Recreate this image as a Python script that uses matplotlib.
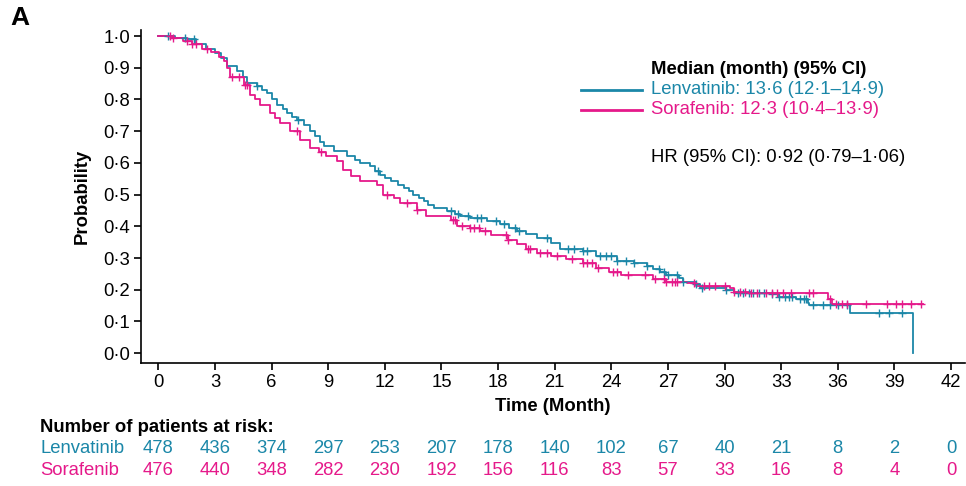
import numpy as np
import matplotlib
matplotlib.use('Agg')
import matplotlib.pyplot as plt

plt.rcParams['font.family'] = ['Liberation Sans', 'DejaVu Sans']

#################################################
# DATA
#################################################
teal = '#1b87a8'
pink = '#e5198a'

lenv_t = [0, 0.9, 1.5, 2.0, 2.5, 3.0, 3.3, 3.64, 4.17, 4.5, 4.7, 5.22, 5.5, 5.76, 6.0,
          6.29, 6.6, 6.82, 7.1, 7.35, 7.7, 8.05, 8.3, 8.58, 8.8, 9.28, 10.0, 10.4, 10.7,
          11.2, 11.5, 11.76, 12.0, 12.3, 12.7, 13.0, 13.3, 13.5, 13.8, 14.05, 14.3, 14.6,
          15.3, 15.7, 16.0, 16.5, 17.4, 18.1, 18.6, 19.0, 19.5, 20.05, 20.8, 21.3, 22.5,
          23.2, 24.3, 25.2, 25.9, 26.2, 26.6, 26.9, 27.6, 27.8, 28.5, 28.7, 30.1, 30.5,
          32.4, 32.9, 33.8, 34.4, 34.5, 36.65, 39.97]
lenv_s = [1.0, 0.995, 0.99, 0.975, 0.96, 0.945, 0.93, 0.905, 0.889, 0.87, 0.851, 0.844,
          0.83, 0.82, 0.80, 0.783, 0.77, 0.757, 0.745, 0.736, 0.72, 0.70, 0.685, 0.665,
          0.652, 0.636, 0.621, 0.61, 0.60, 0.59, 0.575, 0.563, 0.552, 0.542, 0.53, 0.521,
          0.51, 0.50, 0.49, 0.479, 0.468, 0.458, 0.448, 0.44, 0.432, 0.426, 0.417, 0.406,
          0.395, 0.385, 0.375, 0.363, 0.348, 0.329, 0.321, 0.306, 0.29, 0.283, 0.275,
          0.264, 0.255, 0.248, 0.238, 0.225, 0.217, 0.207, 0.20, 0.19, 0.186, 0.178,
          0.17, 0.159, 0.152, 0.128, 0.0]

sora_t = [0, 0.7, 1.3, 1.8, 2.3, 2.8, 3.2, 3.5, 3.64, 3.81, 4.52, 4.87, 5.1, 5.4, 5.93,
          6.2, 6.46, 6.99, 7.52, 8.05, 8.5, 8.9, 9.46, 9.8, 10.2, 10.7, 11.6, 11.9, 12.5,
          12.8, 13.7, 14.2, 15.5, 15.8, 16.5, 17.05, 17.6, 18.5, 19.0, 19.5, 20.05, 20.8,
          21.6, 22.5, 23.2, 23.9, 24.5, 26.2, 26.9, 28.0, 28.5, 30.3, 30.5, 31.4, 35.5,
          35.7, 40.5]
sora_s = [1.0, 0.995, 0.985, 0.975, 0.96, 0.95, 0.935, 0.92, 0.90, 0.872, 0.846, 0.814,
          0.80, 0.783, 0.757, 0.74, 0.725, 0.70, 0.673, 0.647, 0.635, 0.621, 0.605, 0.579,
          0.558, 0.542, 0.531, 0.50, 0.489, 0.473, 0.453, 0.432, 0.421, 0.40, 0.395,
          0.385, 0.374, 0.358, 0.343, 0.327, 0.316, 0.306, 0.296, 0.285, 0.27, 0.257,
          0.248, 0.235, 0.225, 0.22, 0.213, 0.207, 0.194, 0.19, 0.172, 0.156, 0.156]

# censored times
lenv_cens = [0.53, 1.43, 1.87, 5.25, 7.38, 11.65, 15.5, 15.9, 16.4, 16.9, 17.1, 17.9,
             18.3, 18.9, 19.1, 20.6, 21.7, 22.0, 22.5, 22.7, 23.4, 23.7, 24.0, 24.3,
             24.8, 25.2, 25.9, 26.5, 26.8, 27.0, 27.5, 27.8, 28.5, 28.8, 30.1, 30.7,
             31.0, 31.3, 31.5, 31.8, 32.1, 32.5, 32.9, 33.2, 33.4, 33.6, 34.0, 34.2,
             34.3, 34.7, 35.2, 35.6, 36.0, 36.5, 38.2, 38.7, 39.4]
sora_cens = [0.64, 0.8, 1.5, 1.8, 2.0, 2.6, 3.9, 4.25, 4.6, 4.7, 7.35, 8.6, 12.1, 13.2,
             13.7, 15.6, 15.7, 16.1, 16.5, 16.7, 17.0, 17.3, 18.4, 18.5, 19.6, 19.7,
             20.2, 20.6, 21.1, 21.9, 22.5, 22.7, 23.0, 23.3, 24.1, 24.3, 24.9, 25.8,
             26.3, 26.8, 26.9, 27.2, 27.4, 27.5, 28.4, 28.9, 29.2, 29.5, 30.0, 30.5,
             30.8, 31.1, 31.4, 31.7, 32.2, 32.5, 32.8, 33.1, 33.5, 34.5, 34.7, 35.6,
             35.9, 36.2, 36.5, 37.5, 38.6, 39.1, 39.4, 39.9, 40.4]

risk_times = np.arange(0, 43, 3)
risk_lenv = [478, 436, 374, 297, 253, 207, 178, 140, 102, 67, 40, 21, 8, 2, 0]
risk_sora = [476, 440, 348, 282, 230, 192, 156, 116, 83, 57, 33, 16, 8, 4, 0]

y_ticks = np.arange(0, 1.01, 0.1)
y_tick_labels = ['0·0', '0·1', '0·2', '0·3', '0·4', '0·5', '0·6', '0·7', '0·8', '0·9', '1·0']

fs = 13.3


def step_value(t, s, c):
    idx = np.searchsorted(t, c, side='right') - 1
    return np.asarray(s)[idx]


#################################################
# PLOT
#################################################
fig = plt.figure(figsize=(9.66, 4.86), dpi=100)
ax = fig.add_axes([141 / 966, 1 - 362.7 / 486, 824 / 966, 332.7 / 486])

ax.step(lenv_t, lenv_s, where='post', color=teal, lw=1.3)
ax.step(sora_t, sora_s, where='post', color=pink, lw=1.3)

ax.plot(lenv_cens, step_value(lenv_t, lenv_s, lenv_cens), '+', color=teal, ms=6, mew=1.0)
ax.plot(sora_cens, step_value(sora_t, sora_s, sora_cens), '+', color=pink, ms=6, mew=1.0)

ax.set_xlim(-0.92, 42.74)
ax.set_ylim(-0.030, 1.019)
ax.set_xticks(risk_times)
ax.set_xticklabels([str(t) for t in risk_times], fontsize=fs)
ax.set_yticks(y_ticks)
ax.set_yticklabels(y_tick_labels, fontsize=fs)
ax.tick_params(direction='out', length=5, width=1.2, pad=3)

for side in ['top', 'right']:
    ax.spines[side].set_visible(False)
for side in ['left', 'bottom']:
    ax.spines[side].set_linewidth(1.2)

ax.set_xlabel('Time (Month)', fontsize=fs, fontweight='bold', labelpad=5)
ax.set_ylabel('Probability', fontsize=fs, fontweight='bold', labelpad=9)

# legend block
fig.text(651 / 966, 1 - 69 / 486, 'Median (month) (95% CI)', fontsize=fs, fontweight='bold', va='center')
fig.add_artist(plt.Line2D([581 / 966, 642 / 966], [1 - 90 / 486] * 2, color=teal, lw=2))
fig.add_artist(plt.Line2D([581 / 966, 642 / 966], [1 - 110 / 486] * 2, color=pink, lw=2))
fig.text(651 / 966, 1 - 90 / 486, 'Lenvatinib: 13·6 (12·1–14·9)', fontsize=fs, color=teal, va='center')
fig.text(651 / 966, 1 - 110 / 486, 'Sorafenib: 12·3 (10·4–13·9)', fontsize=fs, color=pink, va='center')
fig.text(651 / 966, 1 - 157 / 486, 'HR (95% CI): 0·92 (0·79–1·06)', fontsize=fs, va='center')

fig.text(10 / 966, 1 - 18 / 486, 'A', fontsize=19, fontweight='bold', va='center')

# risk table
fig.text(40 / 966, 1 - 427 / 486, 'Number of patients at risk:', fontsize=fs, fontweight='bold', va='center')
fig.text(40 / 966, 1 - 448 / 486, 'Lenvatinib', fontsize=fs, color=teal, va='center')
fig.text(40 / 966, 1 - 470 / 486, 'Sorafenib', fontsize=fs, color=pink, va='center')
for t, nl, ns in zip(risk_times, risk_lenv, risk_sora):
    ax.annotate(str(nl), xy=(t, 0), xycoords=('data', 'figure fraction'),
                xytext=(t, 1 - 448 / 486), textcoords=('data', 'figure fraction'),
                ha='center', va='center', fontsize=fs, color=teal)
    ax.annotate(str(ns), xy=(t, 0), xycoords=('data', 'figure fraction'),
                xytext=(t, 1 - 470 / 486), textcoords=('data', 'figure fraction'),
                ha='center', va='center', fontsize=fs, color=pink)

plt.savefig('out.png', dpi=100)
